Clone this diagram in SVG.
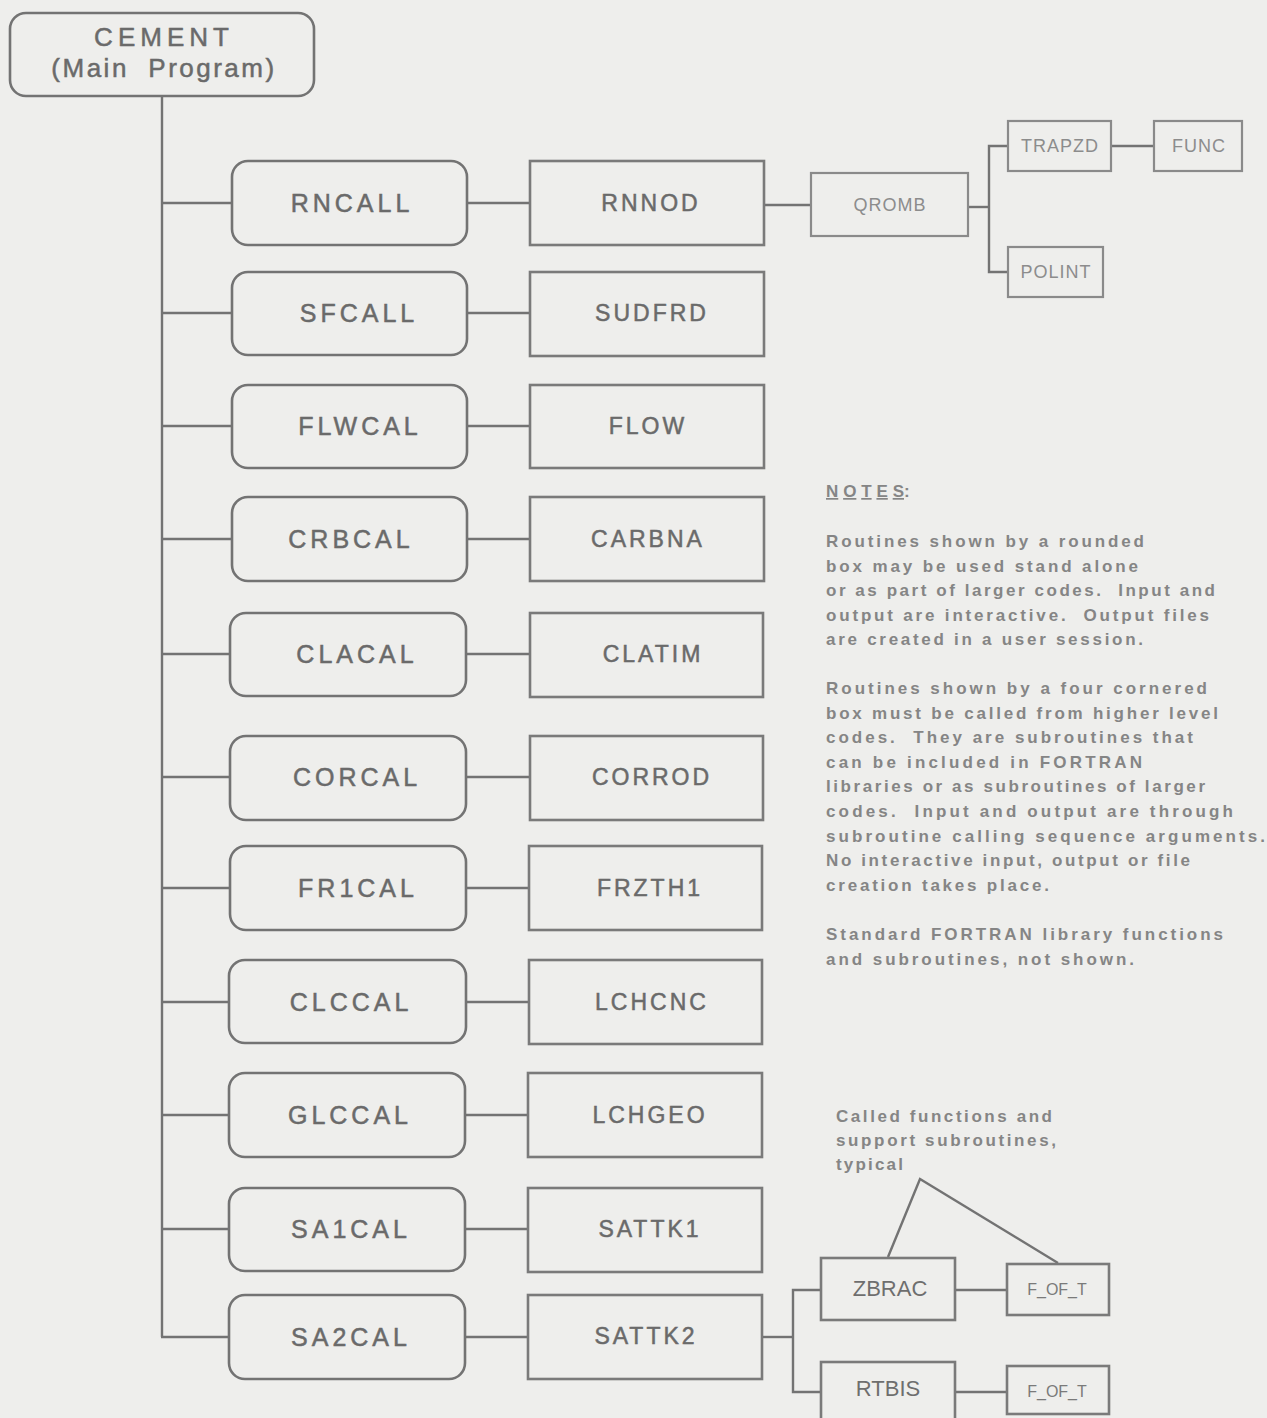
<svg xmlns="http://www.w3.org/2000/svg" width="1267" height="1418" viewBox="0 0 1267 1418">
<style>
.bg{fill:#eeeeec}
.rb{fill:none;stroke:#737373;stroke-width:2.6}
.sb{fill:none;stroke:#7a7a7a;stroke-width:2.6}
.tb{fill:none;stroke:#8a8a8a;stroke-width:2.2}
.ln{fill:none;stroke:#737373;stroke-width:2.4}
.l1{font-family:"Liberation Sans",Arial,sans-serif;font-size:25px;letter-spacing:4px;fill:#6a6a6a;stroke:#6a6a6a;stroke-width:0.5;text-anchor:middle}
.l2{font-family:"Liberation Sans",Arial,sans-serif;font-size:23px;letter-spacing:3px;fill:#6a6a6a;stroke:#6a6a6a;stroke-width:0.5;text-anchor:middle}
.l3{font-family:"Liberation Sans",Arial,sans-serif;font-size:18px;letter-spacing:1px;fill:#8c8c8c;text-anchor:middle}
.l4{font-family:"Liberation Sans",Arial,sans-serif;font-size:22px;fill:#6e6e6e;text-anchor:middle}
.l5{font-family:"Liberation Sans",Arial,sans-serif;font-size:16px;fill:#7a7a7a;text-anchor:middle}
.nt{font-family:"Liberation Sans",Arial,sans-serif;font-size:17px;font-weight:bold;fill:#858585}
</style>
<rect class="bg" x="0" y="0" width="1267" height="1418"/>

<g id="connectors">
  <line class="ln" x1="162" y1="96" x2="162" y2="1337"/>
  <line class="ln" x1="162" y1="203" x2="232" y2="203"/>
  <line class="ln" x1="162" y1="313" x2="232" y2="313"/>
  <line class="ln" x1="162" y1="426" x2="232" y2="426"/>
  <line class="ln" x1="162" y1="539" x2="232" y2="539"/>
  <line class="ln" x1="162" y1="654" x2="230" y2="654"/>
  <line class="ln" x1="162" y1="777" x2="230" y2="777"/>
  <line class="ln" x1="162" y1="888" x2="230" y2="888"/>
  <line class="ln" x1="162" y1="1002" x2="229" y2="1002"/>
  <line class="ln" x1="162" y1="1115" x2="229" y2="1115"/>
  <line class="ln" x1="162" y1="1229" x2="229" y2="1229"/>
  <line class="ln" x1="161" y1="1337" x2="229" y2="1337"/>

  <line class="ln" x1="467" y1="203" x2="530" y2="203"/>
  <line class="ln" x1="467" y1="313" x2="530" y2="313"/>
  <line class="ln" x1="467" y1="426" x2="530" y2="426"/>
  <line class="ln" x1="467" y1="539" x2="530" y2="539"/>
  <line class="ln" x1="466" y1="654" x2="530" y2="654"/>
  <line class="ln" x1="466" y1="777" x2="530" y2="777"/>
  <line class="ln" x1="466" y1="888" x2="529" y2="888"/>
  <line class="ln" x1="466" y1="1002" x2="529" y2="1002"/>
  <line class="ln" x1="465" y1="1115" x2="528" y2="1115"/>
  <line class="ln" x1="465" y1="1229" x2="528" y2="1229"/>
  <line class="ln" x1="465" y1="1337" x2="528" y2="1337"/>

  <line class="ln" x1="764" y1="205" x2="811" y2="205"/>
  <polyline class="ln" points="968,207 989,207"/>
  <polyline class="ln" points="1008,146 989,146 989,272 1008,272"/>
  <line class="ln" x1="1111" y1="146" x2="1154" y2="146"/>

  <polyline class="ln" points="762,1337 793,1337"/>
  <polyline class="ln" points="821,1290 793,1290 793,1392 821,1392"/>
  <line class="ln" x1="955" y1="1290" x2="1007" y2="1290"/>
  <line class="ln" x1="955" y1="1392" x2="1007" y2="1392"/>

  <polyline class="ln" points="888,1257 920,1179 1058,1263" stroke-width="2"/>
</g>

<g id="cement"><rect class="rb" x="10" y="13" width="304" height="83" rx="16"/>
  <text class="l1" x="164" y="46" style="font-size:26px;letter-spacing:5px">CEMENT</text>
  <text class="l1" x="164" y="77" style="font-size:26px;letter-spacing:2.5px" xml:space="preserve">(Main  Program)</text></g>

<g id="rncall"><rect class="rb" x="232" y="161" width="235" height="84" rx="16"/><text class="l1" x="352" y="212">RNCALL</text></g>
<g id="sfcall"><rect class="rb" x="232" y="272" width="235" height="83" rx="16"/><text class="l1" x="359" y="322">SFCALL</text></g>
<g id="flwcal"><rect class="rb" x="232" y="385" width="235" height="83" rx="16"/><text class="l1" x="360" y="435">FLWCAL</text></g>
<g id="crbcal"><rect class="rb" x="232" y="497" width="235" height="84" rx="16"/><text class="l1" x="351" y="548">CRBCAL</text></g>
<g id="clacal"><rect class="rb" x="230" y="613" width="236" height="83" rx="16"/><text class="l1" x="357" y="663">CLACAL</text></g>
<g id="corcal"><rect class="rb" x="230" y="736" width="236" height="84" rx="16"/><text class="l1" x="357" y="786">CORCAL</text></g>
<g id="fr1cal"><rect class="rb" x="230" y="846" width="236" height="84" rx="16"/><text class="l1" x="358" y="897">FR1CAL</text></g>
<g id="clccal"><rect class="rb" x="229" y="960" width="237" height="83" rx="16"/><text class="l1" x="351" y="1011">CLCCAL</text></g>
<g id="glccal"><rect class="rb" x="229" y="1073" width="236" height="84" rx="16"/><text class="l1" x="350" y="1124">GLCCAL</text></g>
<g id="sa1cal"><rect class="rb" x="229" y="1188" width="236" height="83" rx="16"/><text class="l1" x="351" y="1238">SA1CAL</text></g>
<g id="sa2cal"><rect class="rb" x="229" y="1295" width="236" height="84" rx="16"/><text class="l1" x="351" y="1346">SA2CAL</text></g>

<g id="rnnod"><rect class="sb" x="530" y="161" width="234" height="84"/><text class="l2" x="651" y="211">RNNOD</text></g>
<g id="sudfrd"><rect class="sb" x="530" y="272" width="234" height="84"/><text class="l2" x="652" y="321">SUDFRD</text></g>
<g id="flow"><rect class="sb" x="530" y="385" width="234" height="83"/><text class="l2" x="648" y="434">FLOW</text></g>
<g id="carbna"><rect class="sb" x="530" y="497" width="234" height="84"/><text class="l2" x="648" y="547">CARBNA</text></g>
<g id="clatim"><rect class="sb" x="530" y="613" width="233" height="84"/><text class="l2" x="653" y="662">CLATIM</text></g>
<g id="corrod"><rect class="sb" x="530" y="736" width="233" height="84"/><text class="l2" x="652" y="785">CORROD</text></g>
<g id="frzth1"><rect class="sb" x="529" y="846" width="233" height="84"/><text class="l2" x="650" y="896">FRZTH1</text></g>
<g id="lchcnc"><rect class="sb" x="529" y="960" width="233" height="84"/><text class="l2" x="652" y="1010">LCHCNC</text></g>
<g id="lchgeo"><rect class="sb" x="528" y="1073" width="234" height="84"/><text class="l2" x="650" y="1123">LCHGEO</text></g>
<g id="sattk1"><rect class="sb" x="528" y="1188" width="234" height="84"/><text class="l2" x="650" y="1237">SATTK1</text></g>
<g id="sattk2"><rect class="sb" x="528" y="1295" width="234" height="84"/><text class="l2" x="646" y="1344">SATTK2</text></g>

<g id="qromb"><rect class="tb" x="811" y="173" width="157" height="63"/><text class="l3" x="890" y="211">QROMB</text></g>
<g id="trapzd"><rect class="tb" x="1008" y="121" width="103" height="50"/><text class="l3" x="1060" y="152">TRAPZD</text></g>
<g id="func"><rect class="tb" x="1154" y="121" width="88" height="50"/><text class="l3" x="1199" y="152">FUNC</text></g>
<g id="polint"><rect class="tb" x="1008" y="247" width="95" height="50"/><text class="l3" x="1056" y="278">POLINT</text></g>

<g id="zbrac"><rect class="sb" x="821" y="1258" width="134" height="62"/><text class="l4" x="890" y="1296">ZBRAC</text></g>
<g id="f_of_t1"><rect class="sb" x="1007" y="1264" width="102" height="51"/><text class="l5" x="1057" y="1295">F_OF_T</text></g>
<g id="rtbis"><rect class="sb" x="821" y="1362" width="134" height="70"/><text class="l4" x="888" y="1396">RTBIS</text></g>
<g id="f_of_t2"><rect class="sb" x="1007" y="1366" width="102" height="48"/><text class="l5" x="1057" y="1397">F_OF_T</text></g>

<g id="notes">
  <text class="nt" x="826" y="497" textLength="78" lengthAdjust="spacing" text-decoration="underline">NOTES</text>
  <text class="nt" x="904" y="497">:</text>
  <text class="nt" x="826" y="547" textLength="318" lengthAdjust="spacing">Routines shown by a rounded</text>
  <text class="nt" x="826" y="571.6" textLength="312" lengthAdjust="spacing">box may be used stand alone</text>
  <text class="nt" x="826" y="596.2" textLength="389" lengthAdjust="spacing" xml:space="preserve">or as part of larger codes.  Input and</text>
  <text class="nt" x="826" y="620.8" textLength="383" lengthAdjust="spacing" xml:space="preserve">output are interactive.  Output files</text>
  <text class="nt" x="826" y="645.4" textLength="317" lengthAdjust="spacing">are created in a user session.</text>
  <text class="nt" x="826" y="694" textLength="381" lengthAdjust="spacing">Routines shown by a four cornered</text>
  <text class="nt" x="826" y="718.6" textLength="392" lengthAdjust="spacing">box must be called from higher level</text>
  <text class="nt" x="826" y="743.2" textLength="367" lengthAdjust="spacing" xml:space="preserve">codes.  They are subroutines that</text>
  <text class="nt" x="826" y="767.8" textLength="316" lengthAdjust="spacing">can be included in FORTRAN</text>
  <text class="nt" x="826" y="792.4" textLength="379" lengthAdjust="spacing">libraries or as subroutines of larger</text>
  <text class="nt" x="826" y="817" textLength="407" lengthAdjust="spacing" xml:space="preserve">codes.  Input and output are through</text>
  <text class="nt" x="826" y="841.6" textLength="439" lengthAdjust="spacing">subroutine calling sequence arguments.</text>
  <text class="nt" x="826" y="866.2" textLength="364" lengthAdjust="spacing">No interactive input, output or file</text>
  <text class="nt" x="826" y="890.8" textLength="223" lengthAdjust="spacing">creation takes place.</text>
  <text class="nt" x="826" y="940" textLength="397" lengthAdjust="spacing">Standard FORTRAN library functions</text>
  <text class="nt" x="826" y="965" textLength="308" lengthAdjust="spacing">and subroutines, not shown.</text>
</g>

<g id="callout">
  <text class="nt" x="836" y="1122" textLength="216" lengthAdjust="spacing">Called functions and</text>
  <text class="nt" x="836" y="1146" textLength="220" lengthAdjust="spacing">support subroutines,</text>
  <text class="nt" x="836" y="1170" textLength="67" lengthAdjust="spacing">typical</text>
</g>
</svg>
